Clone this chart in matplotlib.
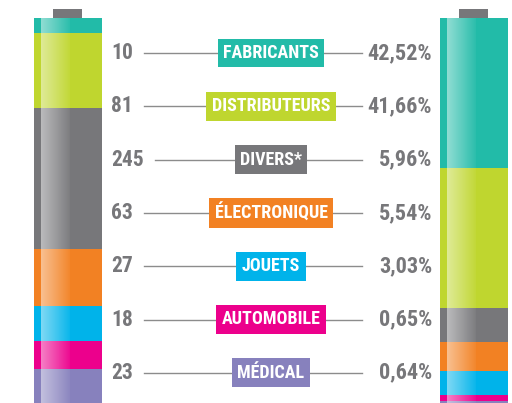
import numpy as np
import matplotlib.pyplot as plt

# data
categories = ['FABRICANTS', 'DISTRIBUTEURS', 'DIVERS*', 'ÉLECTRONIQUE', 'JOUETS', 'AUTOMOBILE', 'MÉDICAL']
counts = [10, 81, 245, 63, 27, 18, 23]
percents = ['42,52%', '41,66%', '5,96%', '5,54%', '3,03%', '0,65%', '0,64%']
colors = ['#22bba8', '#bfd62f', '#77777a', '#f28123', '#00b3ea', '#ec008c', '#8781bd']
# segment heights of the two "batteries" (pixels in the picture)
left_heights = [15, 75, 141, 57, 35, 28, 34]
right_heights = [150, 140, 34, 29, 24, 6, 2]

fig = plt.figure(figsize=(5.12, 4.03), dpi=100)
ax = fig.add_axes([0, 0, 1, 1])
ax.set_xlim(0, 512)
ax.set_ylim(403, 0)
ax.axis('off')

font = ['Roboto Condensed', 'Archivo Narrow', 'DejaVu Sans']
grey = '#77777a'

# white gloss gradient
grad = np.zeros((1, 60, 4))
grad[..., :3] = 1.0
grad[0, :, 3] = np.linspace(0.5, 0.05, 60)


def battery(x0, width, heights):
    bottoms = 18 + np.concatenate([[0], np.cumsum(heights)[:-1]])
    ax.bar(x0, heights, width=width, bottom=bottoms, color=colors, align='edge', linewidth=0)
    # cap
    ax.bar(x0 + 19, 9, width=29, bottom=9, color=grey, align='edge', linewidth=0)
    # gloss
    ax.imshow(grad, extent=(x0 + 7, x0 + 36, 18 + sum(heights), 18), aspect='auto', zorder=3)


battery(34, 68, left_heights)
battery(440, 68, right_heights)

renderer = fig.canvas.get_renderer()
row_y = 53 + 53.3 * np.arange(len(categories))
for y, cat, n, p, c in zip(row_y, categories, counts, percents, colors):
    t = ax.text(111, y, str(n), ha='left', va='center', fontsize=15.5, fontweight='black',
                color=grey, family=font)
    # line starts a little after the count text
    x_start = max(141, t.get_window_extent(renderer).x1 + 11)
    ax.plot([x_start, 362], [y, y], color='#8c8c8c', lw=1, zorder=1)
    ax.text(432, y, p, ha='right', va='center', fontsize=16, fontweight='black',
            color=grey, family=font)
    ax.text(271, y, cat, ha='center', va='center', fontsize=13, fontweight='black',
            color='white', family=font, zorder=4,
            bbox=dict(boxstyle='square,pad=0.3', fc=c, ec='none'))

fig.savefig('out.png', dpi=100)
